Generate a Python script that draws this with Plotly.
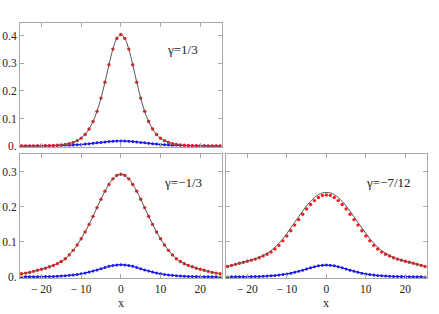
import plotly.graph_objects as go

x = list(range(-25, 26))

red1 = [0.0001, 0.0001, 0.0002, 0.0002, 0.0004, 0.0005, 0.0008, 0.0012, 0.0018, 0.0027, 0.0040, 0.0059, 0.0088,
        0.0131, 0.0194, 0.0286, 0.042, 0.062, 0.089, 0.126, 0.174, 0.232, 0.295, 0.352, 0.391,
        0.405,
        0.391, 0.352, 0.295, 0.232, 0.174, 0.126, 0.089, 0.062, 0.042, 0.0286, 0.0194, 0.0131, 0.0088,
        0.0059, 0.0040, 0.0027, 0.0018, 0.0012, 0.0008, 0.0005, 0.0004, 0.0002, 0.0002, 0.0001, 0.0001]
blue1 = [0.0002, 0.0002, 0.0003, 0.0004, 0.0005, 0.0006, 0.0008, 0.0010, 0.0012, 0.0015, 0.0019, 0.0024, 0.0030,
         0.0037, 0.0046, 0.0056, 0.0069, 0.0083, 0.0098, 0.0115, 0.0132, 0.0148, 0.0163, 0.0175, 0.0182,
         0.0185,
         0.0182, 0.0175, 0.0163, 0.0148, 0.0132, 0.0115, 0.0098, 0.0083, 0.0069, 0.0056, 0.0046, 0.0037, 0.0030,
         0.0024, 0.0019, 0.0015, 0.0012, 0.0010, 0.0008, 0.0006, 0.0005, 0.0004, 0.0003, 0.0002, 0.0002]

red2 = [0.009, 0.011, 0.013, 0.016, 0.019, 0.022, 0.025, 0.029, 0.033, 0.038, 0.044, 0.052, 0.063,
        0.076, 0.091, 0.109, 0.1285, 0.150, 0.173, 0.198, 0.222, 0.245, 0.264, 0.280, 0.290,
        0.293,
        0.290, 0.280, 0.264, 0.245, 0.222, 0.198, 0.173, 0.150, 0.1285, 0.109, 0.091, 0.076, 0.063,
        0.052, 0.044, 0.038, 0.033, 0.029, 0.025, 0.022, 0.019, 0.016, 0.013, 0.011, 0.009]
blue2 = [0.0002, 0.0003, 0.0004, 0.0005, 0.0006, 0.0008, 0.0010, 0.0013, 0.0016, 0.0021, 0.0027, 0.0035, 0.0045,
         0.0057, 0.0072, 0.0090, 0.0112, 0.0138, 0.0168, 0.0201, 0.0236, 0.0270, 0.0302, 0.0327, 0.0344,
         0.035,
         0.0344, 0.0327, 0.0302, 0.0270, 0.0236, 0.0201, 0.0168, 0.0138, 0.0112, 0.0090, 0.0072, 0.0057, 0.0045,
         0.0035, 0.0027, 0.0021, 0.0016, 0.0013, 0.0010, 0.0008, 0.0006, 0.0005, 0.0004, 0.0003, 0.0002]

red3 = [0.030, 0.033, 0.036, 0.039, 0.042, 0.045, 0.048, 0.051, 0.055, 0.060, 0.065, 0.071, 0.080,
        0.090, 0.103, 0.117, 0.132, 0.148, 0.1636, 0.179, 0.194, 0.207, 0.218, 0.227, 0.233,
        0.234,
        0.233, 0.227, 0.218, 0.207, 0.194, 0.179, 0.1636, 0.148, 0.132, 0.117, 0.103, 0.090, 0.080,
        0.071, 0.065, 0.060, 0.055, 0.051, 0.048, 0.045, 0.042, 0.039, 0.036, 0.033, 0.030]
black3 = [0.030, 0.033, 0.036, 0.039, 0.042, 0.045, 0.048, 0.052, 0.056, 0.061, 0.067, 0.075, 0.085,
          0.096, 0.109, 0.124, 0.140, 0.156, 0.172, 0.188, 0.203, 0.216, 0.227, 0.235, 0.240,
          0.241,
          0.240, 0.235, 0.227, 0.216, 0.203, 0.188, 0.172, 0.156, 0.140, 0.124, 0.109, 0.096, 0.085,
          0.075, 0.067, 0.061, 0.056, 0.052, 0.048, 0.045, 0.042, 0.039, 0.036, 0.033, 0.030]
blue3 = [0.0002, 0.0003, 0.0004, 0.0005, 0.0006, 0.0008, 0.0010, 0.0012, 0.0016, 0.0020, 0.0026, 0.0034, 0.0043,
         0.0055, 0.0069, 0.0087, 0.0108, 0.0133, 0.0162, 0.0194, 0.0228, 0.0261, 0.0292, 0.0317, 0.0334,
         0.034,
         0.0334, 0.0317, 0.0292, 0.0261, 0.0228, 0.0194, 0.0162, 0.0133, 0.0108, 0.0087, 0.0069, 0.0055, 0.0043,
         0.0034, 0.0026, 0.0020, 0.0016, 0.0012, 0.0010, 0.0008, 0.0006, 0.0005, 0.0004, 0.0003, 0.0002]

gamma_labels = ["γ=1/3", "γ=−1/3", "γ=−7/12"]
x_tickvals = [-20, -10, 0, 10, 20]
x_ticktext = ["− 20", "− 10", "0", "10", "20"]
y_tickvals1 = [0, 0.1, 0.2, 0.3, 0.4]
y_ticktext1 = ["0.", "0.1", "0.2", "0.3", "0.4"]
y_tickvals2 = [0, 0.1, 0.2, 0.3]
y_ticktext2 = ["0.", "0.1", "0.2", "0.3"]

W, H = 439, 314
FONT = "Liberation Serif"
RED = "#ff1a1a"
BLUE = "#1a1aff"
LINE = "#555555"
FRAME = "#a8a8a8"

fig = go.Figure()

panels = [
    ("x", "y", red1, red1, blue1),
    ("x2", "y2", red2, red2, blue2),
    ("x3", "y3", red3, black3, blue3),
]
for xa, ya, r, b, bl in panels:
    fig.add_trace(go.Scatter(x=x, y=bl, xaxis=xa, yaxis=ya, mode="lines+markers",
                             line=dict(color="#00007a", width=1, shape="spline"),
                             marker=dict(color=BLUE, size=3.0), hoverinfo="skip"))
    fig.add_trace(go.Scatter(x=x, y=r, xaxis=xa, yaxis=ya, mode="markers",
                             marker=dict(color=RED, size=3.4), hoverinfo="skip"))
    fig.add_trace(go.Scatter(x=x, y=b, xaxis=xa, yaxis=ya, mode="lines",
                             line=dict(color=LINE, width=1, shape="spline"), hoverinfo="skip"))

def px_x(p):
    return p / W

def px_y(p):
    return 1 - p / H

common_ax = dict(showline=True, linecolor=FRAME, linewidth=1, mirror="ticks", ticks="inside",
                 ticklen=4, tickcolor=FRAME, showgrid=False, zeroline=False, automargin=False,
                 tickfont=dict(family=FONT, size=11.5, color="#222"))

xr = [-25.4, 25.4]
fig.update_layout(
    width=W, height=H, margin=dict(l=0, r=0, t=0, b=0, pad=0), autosize=False,
    font=dict(family=FONT),
    paper_bgcolor="white", plot_bgcolor="white", showlegend=False,
    xaxis=dict(domain=[px_x(20), px_x(221.7)], range=xr, anchor="y", tickvals=x_tickvals,
               ticktext=x_ticktext, showticklabels=False, **common_ax),
    yaxis=dict(domain=[px_y(146.7), px_y(22.7)], range=[-0.0025, 0.448], anchor="x",
               tickvals=y_tickvals1, ticktext=y_ticktext1, **common_ax),
    xaxis2=dict(domain=[px_x(20), px_x(221.7)], range=xr, anchor="y2", tickvals=x_tickvals,
                ticktext=x_ticktext, **common_ax),
    yaxis2=dict(domain=[px_y(278), px_y(154)], range=[-0.003, 0.351], anchor="x2",
                tickvals=y_tickvals2, ticktext=y_ticktext2, **common_ax),
    xaxis3=dict(domain=[px_x(226), px_x(426.7)], range=xr, anchor="y3", tickvals=x_tickvals,
                ticktext=x_ticktext, **common_ax),
    yaxis3=dict(domain=[px_y(278), px_y(154)], range=[-0.003, 0.351], anchor="x3",
                tickvals=y_tickvals2, ticktext=y_ticktext2, showticklabels=False, **common_ax),
)

ann_font = dict(family=FONT, size=13, color="#222")
fig.add_annotation(x=px_x(165), y=px_y(50), xref="paper", yref="paper", text=gamma_labels[0],
                   showarrow=False, xanchor="left", yanchor="middle", font=ann_font)
fig.add_annotation(x=px_x(161.5), y=px_y(182.3), xref="paper", yref="paper", text=gamma_labels[1],
                   showarrow=False, xanchor="left", yanchor="middle", font=ann_font)
fig.add_annotation(x=px_x(363.5), y=px_y(182.3), xref="paper", yref="paper", text=gamma_labels[2],
                   showarrow=False, xanchor="left", yanchor="middle", font=ann_font)
for cx in (120.7, 326.3):
    fig.add_annotation(x=px_x(cx), y=px_y(303), xref="paper", yref="paper", text="x",
                       showarrow=False, xanchor="center", yanchor="middle",
                       font=dict(family=FONT, size=12, color="#222"))

fig.write_html("out.html", config={"displayModeBar": False},
               post_script="document.body.style.margin='0';document.body.style.padding='0';")
